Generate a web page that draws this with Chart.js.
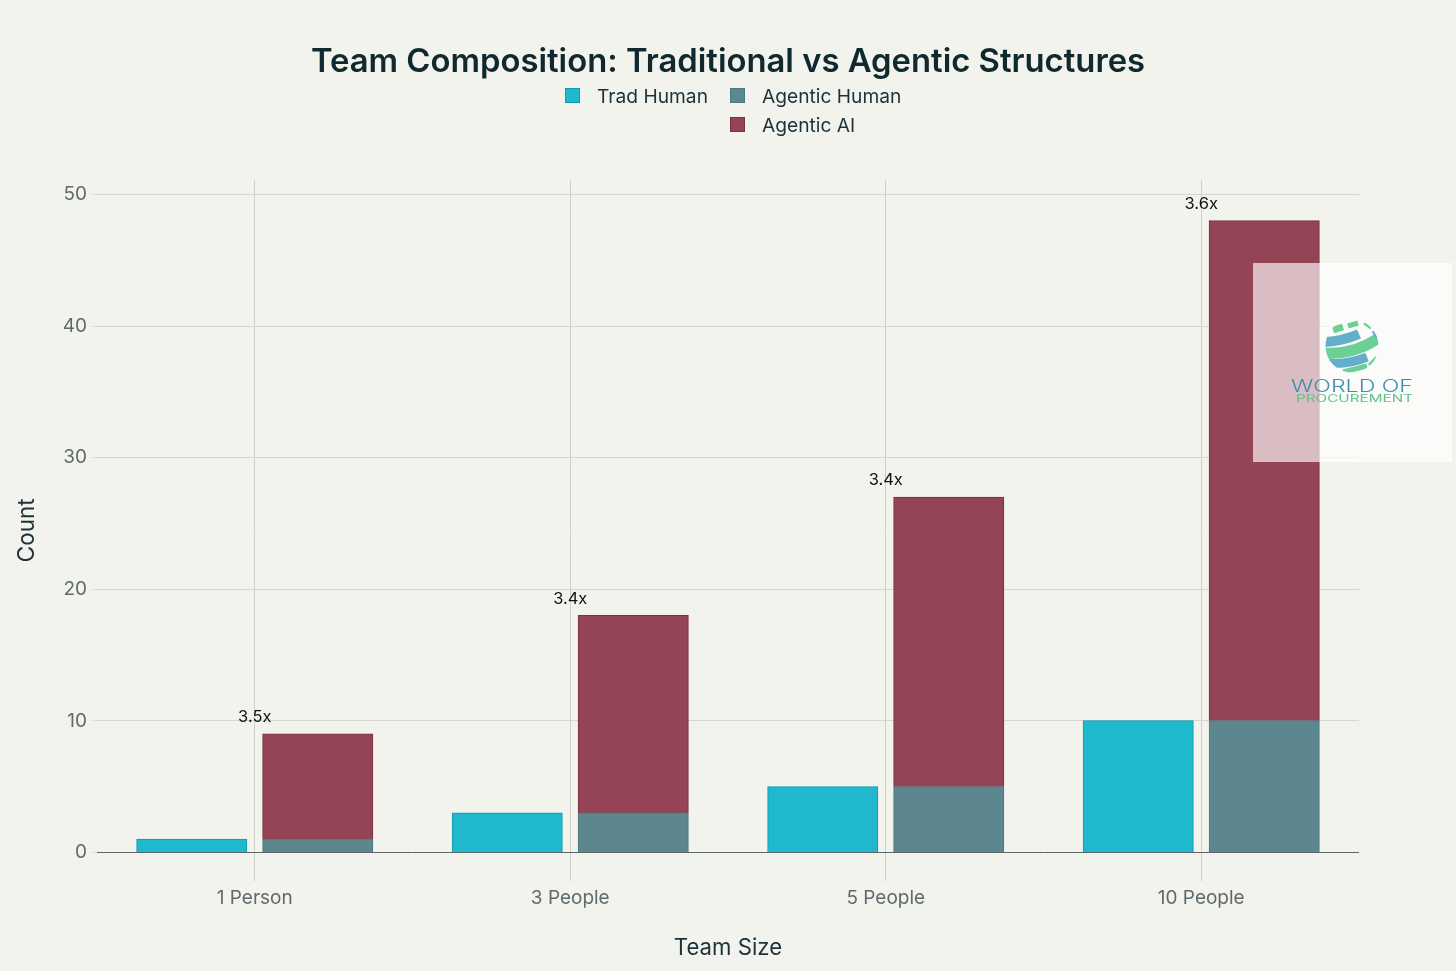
<!DOCTYPE html>
<html>
<head>
<meta charset="utf-8">
<title>Team Composition</title>
<script src="https://cdn.jsdelivr.net/npm/chart.js@4"></script>
<style>
  html, body { margin: 0; padding: 0; background: #F3F3EE; }
  #wrap { position: relative; width: 1456px; height: 971px; overflow: hidden; }
  canvas { display: block; }
  #legend { position: absolute; left: 565px; top: 82px; display: grid; grid-template-columns: 165px auto; row-gap: 0;
            font: 19.2px Inter, sans-serif; color: #1A3238; }
  #legend div { height: 29px; line-height: 29px; white-space: nowrap; position: relative; padding-left: 32px; }
  #legend i { position: absolute; left: 0; top: 6px; width: 13px; height: 13px; border: 1px solid; }
  #mark { position: absolute; left: 1253px; top: 263px; width: 199px; height: 199px; background: rgba(255,255,255,.65); }
  #mark svg { position: absolute; left: 0; top: 0; }
</style>
</head>
<body>
<div id="wrap">
  <canvas id="teamChart" width="1456" height="971"></canvas>
  <div id="legend"></div>
  <div id="mark">
    <svg width="199" height="199">
      <defs><clipPath id="globe"><circle cx="99" cy="83" r="26.5"/></clipPath></defs>
      <g clip-path="url(#globe)" fill="none">
        <path d="M80 67 L90 64" stroke="#6ccf94" stroke-width="7"/>
        <path d="M95 63 L105 60" stroke="#6ccf94" stroke-width="5"/>
        <path d="M111 60 L118 65" stroke="#6ccf94" stroke-width="3"/>
        <path d="M71 79 Q90 78 106 71" stroke="#62aecb" stroke-width="10"/>
        <path d="M71 90 Q100 92 124 76" stroke="#6ccf94" stroke-width="11"/>
        <path d="M74 100 Q95 102 114 94" stroke="#62aecb" stroke-width="9"/>
        <path d="M90 109 L114 103" stroke="#6ccf94" stroke-width="5"/>
        <path d="M120 68 L125 76" stroke="#62aecb" stroke-width="3"/>
        <path d="M116 102 L124 94" stroke="#6ccf94" stroke-width="3"/>
      </g>
      <text x="38" y="129" textLength="122" lengthAdjust="spacingAndGlyphs" font-family="Inter" font-weight="300" font-size="17" fill="#3F8DB5">WORLD OF</text>
      <text x="43" y="139" textLength="117" lengthAdjust="spacingAndGlyphs" font-family="Inter" font-size="10" fill="#5FC088">PROCUREMENT</text>
    </svg>
  </div>
</div>
<script>
const categories = ["1 Person", "3 People", "5 People", "10 People"];
const tradHuman = [1, 3, 5, 10];
const agenticHuman = [1, 3, 5, 10];
const agenticAI = [8, 15, 22, 38];
const ratioLabels = ["3.5x", "3.4x", "3.4x", "3.6x"];
const yTicks = [0, 10, 20, 30, 40, 50];

const fontName = "Inter, sans-serif";

// little text above each agentic stack
const ratioPlugin = {
  id: "ratioLabels",
  afterDatasetsDraw(chart) {
    const ctx = chart.ctx;
    ctx.save();
    ctx.font = "16.5px " + fontName;
    ctx.fillStyle = "#111";
    ctx.textAlign = "center";
    ctx.textBaseline = "middle";
    ratioLabels.forEach((txt, i) => {
      const x = chart.scales.x.getPixelForValue(i);
      const y = chart.scales.y.getPixelForValue(agenticHuman[i] + agenticAI[i]);
      ctx.fillText(txt, x, y - 17);
    });
    ctx.restore();
  }
};

const chart = new Chart(document.getElementById("teamChart").getContext("2d"), {
  type: "bar",
  plugins: [ratioPlugin],
  data: {
    labels: categories,
    datasets: [
      { label: "Trad Human", data: tradHuman, stack: "trad", backgroundColor: "#1FB8CD", borderColor: "#0E9BB0", borderWidth: 1, inflateAmount: 0.5 },
      { label: "Agentic Human", data: agenticHuman, stack: "agentic", backgroundColor: "#5D878F", borderColor: "#4C7880", borderWidth: 1, inflateAmount: 0.5 },
      { label: "Agentic AI", data: agenticAI, stack: "agentic", backgroundColor: "#944454", borderColor: "#7A3040", borderWidth: 1, inflateAmount: 0.5 }
    ]
  },
  options: {
    responsive: false,
    animation: false,
    barPercentage: 0.873,
    categoryPercentage: 0.7987,
    layout: { padding: { top: 42, left: 0, right: 0, bottom: 0 } },
    plugins: {
      legend: { display: false },
      tooltip: { enabled: false },
      title: {
        display: true,
        text: "Team Composition: Traditional vs Agentic Structures",
        color: "#10292F",
        font: { family: fontName, size: 32.8, weight: "600" },
        padding: { top: 0, bottom: 98.6 }
      }
    },
    scales: {
      x: {
        stacked: true,
        afterFit(scale) { scale.height = 90.5; },
        grid: { offset: false, color: "#CFCFCA", drawTicks: false },
        border: { display: false },
        ticks: { color: "#5F6A6C", font: { family: fontName, size: 19 }, padding: 6, maxRotation: 0 },
        title: { display: true, text: "Team Size", color: "#1A3238", font: { family: fontName, size: 22.2 }, padding: { top: 12, bottom: 9 } }
      },
      y: {
        stacked: true,
        min: -2.13,
        max: 51.1,
        afterFit(scale) { scale.width = 97; },
        afterBuildTicks(scale) { scale.ticks = yTicks.map(v => ({ value: v })); },
        grid: {
          color: ctx => ctx.tick && ctx.tick.value === 0 ? "#5A6568" : "#D6D6D0",
          tickColor: "#E4E4DF",
          tickLength: 6
        },
        border: { display: false },
        ticks: { color: "#5F6A6C", font: { family: fontName, size: 19 }, padding: 4 },
        title: { display: true, text: "Count", color: "#1A3238", font: { family: fontName, size: 22.5 }, padding: { top: 14, bottom: 0 } }
      },
      // empty axis, only keeps the right margin without pushing the title off centre
      yRight: {
        position: "right",
        afterFit(scale) { scale.width = 97; },
        grid: { display: false },
        border: { display: false },
        ticks: { display: false }
      }
    }
  }
});

// two row legend, the library one can not line up Agentic AI under Agentic Human
const legendSlots = [0, 1, null, 2];
const legendEl = document.getElementById("legend");
legendSlots.forEach(idx => {
  const cell = document.createElement("div");
  if (idx !== null) {
    const ds = chart.data.datasets[idx];
    cell.innerHTML = `<i style="background:${ds.backgroundColor};border-color:${ds.borderColor}"></i>${ds.label}`;
  }
  legendEl.appendChild(cell);
});
</script>
</body>
</html>
